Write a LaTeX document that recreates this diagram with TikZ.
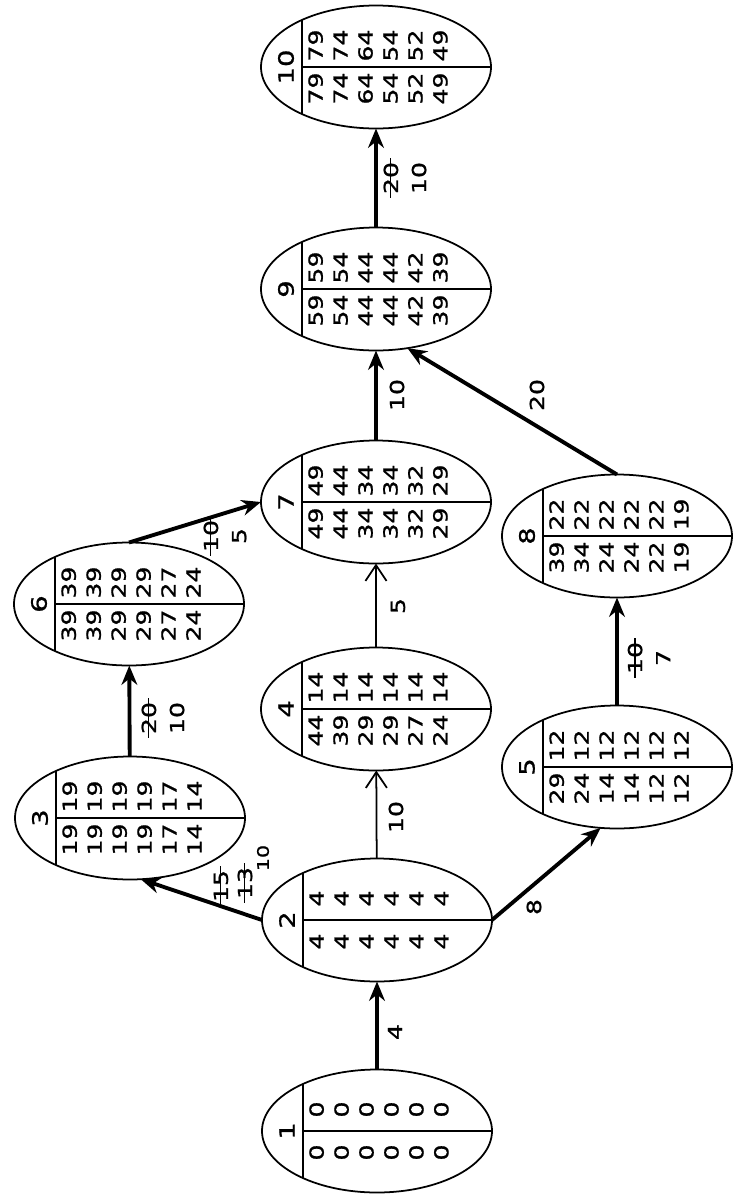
\documentclass[tikz,border=0pt]{standalone}
\usepackage{fontspec}
\newfontfamily\handfont[FakeStretch=1.3, FakeBold=1]{DejaVu Sans}
\usetikzlibrary{shapes.geometric,arrows.meta,calc}

\newcommand{\strk}[1]{\setbox0\hbox{#1}\rlap{\kern-.2em\rule[.34em]{\dimexpr\wd0+.4em\relax}{.7pt}}\box0}

\tikzset{
  event/.style={draw, ellipse, minimum width=4.6cm, minimum height=2.46cm,
    inner sep=0pt, outer sep=0pt, line width=1pt},
  part/.style={line width=.8pt},
  evlabel/.style={rotate=90, font=\handfont\fontsize{12}{14}\selectfont},
  nums/.style={rotate=90, align=center, font=\handfont\fontsize{11}{14.2}\selectfont},
  elabel/.style={rotate=90, align=center, font=\handfont\fontsize{11}{16}\selectfont},
  crit/.style={line width=2.2pt, -{Stealth[length=11pt, width=9pt]}},
  slack/.style={line width=1pt, -{Straight Barb[length=9pt, width=12pt]}},
}

% event: name, position, number, upper half, lower half
\newcommand{\event}[5]{%
  \node[event] (#1) at (#2) {};
  \draw[part] ($(#1)+(-1.48,.94)$) -- ($(#1)+(-1.48,-.94)$);
  \draw[part] ($(#1)+(-1.48,0)$) -- (#1.east);
  \node[evlabel] (#1n) at ($(#1)+(-1.80,0)$) {#3};
  \node[nums] (#1u) at ($(#1)+(.04,.43)$) {#4};
  \node[nums] (#1d) at ($(#1)+(.04,-.43)$) {#5};
}

\begin{document}
\begin{tikzpicture}
  \useasboundingbox (0,0) rectangle (14.96,-23.92);
  \event{E1}{7.54,-22.62}{1}{0\\0\\0\\0\\0\\0}{0\\0\\0\\0\\0\\0}
  \event{E2}{7.54,-18.40}{2}{4\\4\\4\\4\\4\\4}{4\\4\\4\\4\\4\\4}
  \event{E3}{2.60,-16.36}{3}{19\\19\\19\\19\\17\\14}{19\\19\\19\\19\\17\\14}
  \event{E4}{7.52,-14.18}{4}{14\\14\\14\\14\\14\\14}{44\\39\\29\\29\\27\\24}
  \event{E5}{12.34,-15.34}{5}{12\\12\\12\\12\\12\\12}{29\\24\\14\\14\\12\\12}
  \event{E6}{2.58,-12.08}{6}{39\\39\\29\\29\\27\\24}{39\\39\\29\\29\\27\\24}
  \event{E7}{7.52,-10.04}{7}{49\\44\\34\\34\\32\\29}{49\\44\\34\\34\\32\\29}
  \event{E8}{12.34,-10.72}{8}{22\\22\\22\\22\\22\\19}{39\\34\\24\\24\\22\\19}
  \event{E9}{7.52,-5.78}{9}{59\\54\\44\\44\\42\\39}{59\\54\\44\\44\\42\\39}
  \event{E10}{7.52,-1.34}{10}{79\\74\\64\\54\\52\\49}{79\\74\\64\\54\\52\\49}

  \draw[crit] (E1) -- (E2);
  \draw[crit] (E2.west) -- (E3.-80);
  \draw[slack] (E2) -- (E4);
  \draw[crit] (E2.east) -- (E5.-105);
  \draw[crit] (E3) -- (E6);
  \draw[slack] (E4) -- (E7);
  \draw[crit] (E5) -- (E8);
  \draw[crit] (E6.north) -- (E7.west);
  \draw[crit] (E7) -- (E9);
  \draw[crit] (E8.north) -- (E9.-62);
  \draw[crit] (E9) -- (E10);

  \node[elabel] (L12) at (7.90,-20.64) {4};
  \node[elabel] (L23a) at (4.42,-17.72) {\strk{15}};
  \node[elabel] (L23b) at (4.90,-17.66) {\strk{13}};
  \node[elabel, font=\handfont\fontsize{9}{10}\selectfont] (L23c) at (5.26,-17.16) {10};
  \node[elabel] (L24) at (7.92,-16.34) {10};
  \node[elabel] (L25) at (10.68,-18.14) {8};
  \node[elabel] (L36) at (3.26,-14.36) {\strk{20}\\10};
  \node[elabel] (L47) at (7.96,-12.12) {5};
  \node[elabel] (L58) at (12.98,-13.16) {\strk{10}\\7};
  \node[elabel] (L67) at (4.50,-10.72) {\strk{10}\\5};
  \node[elabel] (L79) at (7.94,-7.90) {10};
  \node[elabel] (L89) at (10.74,-7.90) {20};
  \node[elabel] (L910) at (8.10,-3.56) {\strk{20}\\10};
\end{tikzpicture}
\end{document}
